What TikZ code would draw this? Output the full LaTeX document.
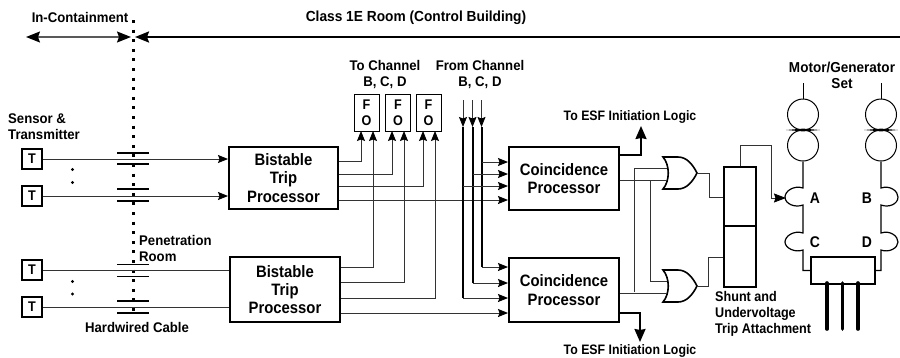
\documentclass[tikz,border=0pt]{standalone}
\usepackage{fontspec}
\setmainfont{Liberation Sans}[FakeStretch=0.94]
\newfontfamily\narrowfont{Liberation Sans}[FakeStretch=0.9]
\usetikzlibrary{arrows.meta}
\tikzset{
  x=1pt,y=-1pt,
  lbl/.style={inner sep=0pt,align=center,font=\fontsize{14}{16}\selectfont\bfseries},
  lbln/.style={lbl,font=\narrowfont\fontsize{14}{16}\selectfont\bfseries},
  lbll/.style={lbl,align=left},
  lett/.style={lbl,font=\narrowfont\fontsize{15.5}{16}\selectfont\bfseries},
  block/.style={draw,line width=2pt,inner sep=0pt,align=center,font=\narrowfont\fontsize{16.5}{18.3}\selectfont\bfseries},
  tbox/.style={draw,line width=2pt,minimum width=20pt,minimum height=20pt,inner sep=0pt,font=\narrowfont\fontsize{14}{15}\selectfont\bfseries},
  fobox/.style={draw,line width=1pt,minimum width=25pt,minimum height=37pt,inner sep=0pt,align=center,font=\narrowfont\fontsize{14}{16.5}\selectfont\bfseries},
  wire/.style={line width=0.9pt,black!80},
  sig/.style={wire,-{Stealth[length=10pt,width=8pt,inset=1.5pt,black]}},
  bus/.style={line width=2pt},
  plate/.style={line width=1.7pt},
  mg/.style={draw,circle,line width=1pt,minimum size=31pt,inner sep=0pt},
  orgate/.pic={
    \draw[line width=1.6pt] (0,-16) -- (15,-16) .. controls (24,-16) and (30,-8) .. (34,0)
      .. controls (30,8) and (24,16) .. (15,16) -- (0,16)
      .. controls (7,8) and (7,-8) .. (0,-16) -- cycle;
    \coordinate (-up) at (4,-5);
    \coordinate (-low) at (4,7);
    \coordinate (-out) at (34,0);
  }
}
\begin{document}
\begin{tikzpicture}
\useasboundingbox (0,0) rectangle (900,357);
% labels
\node[lbl] (incont) at (80,17) {In-Containment};
\node[lbl,font=\fontsize{14.6}{16}\selectfont\bfseries] (room) at (416,18) {Class 1E Room (Control Building)};
\node[lbll,anchor=west] (sensor) at (8,127) {Sensor \&\\Transmitter};
\node[lbll,anchor=west] (pen) at (139,248) {Penetration\\Room};
\node[lbl] (cable) at (137,327) {Hardwired Cable};
\node[lbl] (toch) at (385,75) {To Channel\\B, C, D};
\node[lbl] (fromch) at (480,75) {From Channel\\B, C, D};
\node[lbln,font=\narrowfont\fontsize{13.7}{16}\selectfont\bfseries] (esf1) at (630,117) {To ESF Initiation Logic};
\node[lbln,font=\narrowfont\fontsize{13.7}{16}\selectfont\bfseries] (esf2) at (630,351) {To ESF Initiation Logic};
\node[lbl,font=\fontsize{14.4}{16}\selectfont\bfseries] (mgset) at (842,75) {Motor/Generator\\Set};
\node[lbln,align=left,anchor=north west] (shunt) at (715,291) {Shunt and\\Undervoltage\\Trip Attachment};
\node[lett] (la) at (815,198) {A};
\node[lett] (lb) at (867,198) {B};
\node[lett] (lc) at (815,242) {C};
\node[lett] (ld) at (867,242) {D};
% boundary
\coordinate (bndtop) at (133,20);
\coordinate (bndbot) at (133,314);
\coordinate (left) at (26,37);
\coordinate (bndl) at (131,37);
\coordinate (bndr) at (135,37);
\coordinate (right) at (900,37);
\draw[line width=3pt,dash pattern=on 3pt off 6.6pt] (bndtop) -- (bndbot);
\draw[line width=1.4pt,black!65,{Stealth[length=14pt,width=11pt,inset=2pt,black]}-{Stealth[length=14pt,width=11pt,inset=2pt,black]}] (left) -- (bndl);
\draw[line width=2.2pt,{Stealth[length=14pt,width=11pt,inset=2pt]}-] (bndr) -- (right);
% transmitters
\node[tbox] (t1) at (32,159) {T};
\node[tbox] (t2) at (32,196) {T};
\node[tbox] (t3) at (32,270) {T};
\node[tbox] (t4) at (32,307) {T};
\foreach \y/\n in {169.5/a,182.5/b,281.5/c,294/d}{\fill (72.5,\y) circle (1.6pt);}
% processors
\node[block,minimum width=109pt,minimum height=62pt] (b1) at (283.5,178) {Bistable\\Trip\\Processor};
\node[block,minimum width=110pt,minimum height=65pt] (b2) at (285,289.5) {Bistable\\Trip\\Processor};
\node[block,minimum width=110pt,minimum height=63pt] (c1) at (564,178.5) {Coincidence\\Processor};
\node[block,minimum width=110pt,minimum height=64pt] (c2) at (564,290) {Coincidence\\Processor};
% fibre optic boxes
\node[fobox] (f1) at (366.5,112.5) {F\\O};
\node[fobox] (f2) at (398,112.5) {F\\O};
\node[fobox] (f3) at (428.5,112.5) {F\\O};
% sensor lines
\draw[sig] (t1.east) -- (b1.west |- t1.east);
\draw[sig] (t2.east) -- (b1.west |- t2.east);
\draw[wire] (t3.east) -- (b2.west |- t3.east);
\draw[wire] (t4.east) -- (b2.west |- t4.east);
% penetration plates
\foreach \y in {153,164,189,201,264.5,276.5,301,313}{\draw[plate] (117,\y) -- (149,\y);}
% to fibre optic
\coordinate (fa) at (361,131); \coordinate (fb) at (373,131);
\coordinate (fc) at (392,131); \coordinate (fd) at (404,131);
\coordinate (fe) at (423,131); \coordinate (ff) at (435,131);
\draw[sig] (b1.east |- 0,161) -| (fa);
\draw[sig] (b1.east |- 0,174) -| (fc);
\draw[sig] (b1.east |- 0,186) -| (fe);
\draw[sig] (b2.east |- 0,267) -| (fb);
\draw[sig] (b2.east |- 0,282) -| (fd);
\draw[sig] (b2.east |- 0,298) -| (ff);
\draw[sig] (b1.east |- 0,200) -- (c1.west |- 0,200);
\draw[sig] (b2.east |- 0,313) -- (c2.west |- 0,313);
% from channel
\coordinate (ch1) at (463,100); \coordinate (ch2) at (472.5,100); \coordinate (ch3) at (481.5,100);
\coordinate (hd1) at (463,127); \coordinate (hd2) at (472.5,127); \coordinate (hd3) at (481.5,127);
\foreach \c in {1,2,3}{\draw[sig] (ch\c) -- (hd\c);}
\draw[bus] (hd1) -- (hd1 |- 0,298);
\draw[bus] (hd2) -- (hd2 |- 0,283);
\draw[bus] (hd3) -- (hd3 |- 0,267);
\draw[sig] (hd1 |- 0,298) -- (c2.west |- 0,298);
\draw[sig] (hd2 |- 0,283) -- (c2.west |- 0,283);
\draw[sig] (hd3 |- 0,267) -- (c2.west |- 0,267);
\draw[sig] (hd3 |- 0,162) -- (c1.west |- 0,162);
\draw[sig] (hd2 |- 0,174) -- (c1.west |- 0,174);
\draw[sig] (hd1 |- 0,186) -- (c1.west |- 0,186);
% ESF outputs
\draw[line width=2pt,-{Stealth[length=13pt,width=11pt,inset=1pt]}] (c1.east |- 0,155) -| (641,126);
\draw[line width=2pt,-{Stealth[length=13pt,width=11pt,inset=1pt]}] (c2.east |- 0,313) -| (640,342);
% OR gates
\pic (or1) at (663,173) {orgate};
\pic (or2) at (663,286) {orgate};
\draw[wire] (c1.east |- or1-low) -- (or1-low);
\draw[wire] (c2.east |- or2-low) -- (or2-low);
\draw[wire] (650,180) |- (or2-up);
\draw[wire] (634,292) |- (or1-up);
% shunt trip
\node[draw,line width=2pt,minimum width=32pt,minimum height=59pt,inner sep=0pt] (s1) at (740,196.5) {};
\node[draw,line width=2pt,minimum width=32pt,minimum height=61pt,inner sep=0pt] (s2) at (740,256.5) {};
\draw[wire] (or1-out) -- (709,173) |- (s1.west |- 0,197);
\draw[wire] (or2-out) -- (708,286) |- (s2.west |- 0,257);
\coordinate (trip) at (786,198);
\draw[wire,-{Stealth[length=12pt,width=9pt,inset=1.5pt,black]}] (s1.north) |- (771,145) |- (trip);
% motor generators
\node[mg] (m1) at (803,114.5) {};
\node[mg] (g1) at (803,145.5) {};
\node[mg] (m2) at (881,114.5) {};
\node[mg] (g2) at (881,145.5) {};
\coordinate (m1t) at (803,83); \coordinate (m2t) at (881,83);
\draw[wire,black] (m1t) -- (m1.north);
\draw[wire,black] (m2t) -- (m2.north);
\fill (786,130) -- (803,128.6) -- (820,130) -- (803,131.4) -- cycle;
\fill (864,130) -- (881,128.6) -- (898,130) -- (881,131.4) -- cycle;
% breaker unit
\node[draw,line width=1.6pt,minimum width=64pt,minimum height=27pt,inner sep=0pt] (brk) at (843,270.5) {};
% breakers and bus
\draw[line width=1.2pt] (g1.south) -- (803,188)
  .. controls (794,185) and (785,191) .. (785,197)
  .. controls (785,204) and (795,208) .. (803,205) -- (803,233)
  .. controls (794,230) and (785,236) .. (785,242)
  .. controls (785,248) and (795,253) .. (803,250) |- (brk.west);
\draw[line width=1.2pt] (g2.south) -- (881,188)
  .. controls (890,185) and (898,191) .. (898,197)
  .. controls (898,204) and (889,208) .. (881,205) -- (881,233)
  .. controls (890,230) and (898,236) .. (898,242)
  .. controls (898,248) and (889,253) .. (881,250) |- (brk.east);
% outputs
\foreach \x/\n in {827/a,842.5/b,858/c}{
  \coordinate (out\n) at (\x,329);
  \draw[line width=3.6pt,line cap=round] (\x,283) -- (out\n);
}
\end{tikzpicture}
\end{document}
